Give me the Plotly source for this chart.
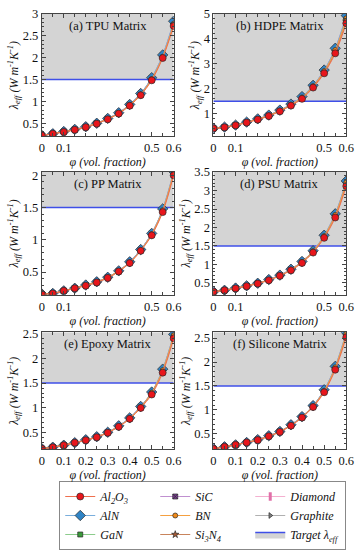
import plotly.graph_objects as go

# ---------------- data ----------------
PHI = [0.0, 0.05, 0.10, 0.15, 0.20, 0.25, 0.30, 0.35, 0.40, 0.45, 0.50, 0.55, 0.60]
TARGET = 1.5

FILLERS = ["Al2O3", "AlN", "GaN", "SiC", "BN", "Si3N4", "Diamond", "Graphite"]
MATRICES = ["TPU", "HDPE", "PP", "PSU", "Epoxy", "Silicone"]
PANEL_LABELS = ["(a) TPU Matrix", "(b) HDPE Matrix", "(c) PP Matrix",
                "(d) PSU Matrix", "(e) Epoxy Matrix", "(f) Silicone Matrix"]

# TPU matrix
TPU_AL2O3    = [0.22, 0.26, 0.30, 0.35, 0.41, 0.49, 0.59, 0.72, 0.90, 1.14, 1.48, 1.99, 2.72]
TPU_ALN      = [0.22, 0.26, 0.31, 0.36, 0.42, 0.50, 0.61, 0.74, 0.93, 1.18, 1.54, 2.06, 2.83]
TPU_GAN      = [0.22, 0.26, 0.31, 0.35, 0.42, 0.50, 0.60, 0.73, 0.92, 1.17, 1.52, 2.03, 2.79]
TPU_SIC      = [0.22, 0.26, 0.31, 0.36, 0.42, 0.50, 0.61, 0.74, 0.93, 1.18, 1.53, 2.05, 2.81]
TPU_BN       = [0.22, 0.26, 0.31, 0.35, 0.42, 0.50, 0.60, 0.73, 0.92, 1.16, 1.51, 2.02, 2.77]
TPU_SI3N4    = [0.22, 0.26, 0.30, 0.35, 0.41, 0.50, 0.60, 0.73, 0.91, 1.16, 1.51, 2.02, 2.76]
TPU_DIAMOND  = [0.22, 0.26, 0.31, 0.36, 0.42, 0.50, 0.61, 0.74, 0.93, 1.18, 1.53, 2.05, 2.82]
TPU_GRAPHITE = [0.22, 0.26, 0.31, 0.36, 0.42, 0.50, 0.61, 0.74, 0.93, 1.18, 1.53, 2.05, 2.81]

# HDPE matrix
HDPE_AL2O3    = [0.42, 0.46, 0.54, 0.65, 0.77, 0.91, 1.10, 1.33, 1.60, 2.05, 2.62, 3.42, 4.62]
HDPE_ALN      = [0.42, 0.47, 0.55, 0.67, 0.80, 0.95, 1.15, 1.39, 1.69, 2.14, 2.75, 3.62, 4.93]
HDPE_GAN      = [0.42, 0.47, 0.55, 0.66, 0.79, 0.93, 1.13, 1.36, 1.65, 2.10, 2.69, 3.52, 4.77]
HDPE_SIC      = [0.42, 0.47, 0.55, 0.67, 0.80, 0.95, 1.14, 1.38, 1.68, 2.13, 2.73, 3.59, 4.89]
HDPE_BN       = [0.42, 0.47, 0.55, 0.66, 0.79, 0.94, 1.13, 1.37, 1.66, 2.11, 2.71, 3.55, 4.82]
HDPE_SI3N4    = [0.42, 0.46, 0.55, 0.66, 0.78, 0.93, 1.12, 1.35, 1.63, 2.08, 2.66, 3.48, 4.70]
HDPE_DIAMOND  = [0.42, 0.47, 0.55, 0.67, 0.80, 0.95, 1.14, 1.38, 1.68, 2.14, 2.74, 3.61, 4.91]
HDPE_GRAPHITE = [0.42, 0.47, 0.55, 0.67, 0.80, 0.95, 1.14, 1.38, 1.68, 2.13, 2.74, 3.60, 4.90]

# PP matrix
PP_AL2O3    = [0.16, 0.17, 0.21, 0.25, 0.29, 0.34, 0.41, 0.51, 0.64, 0.83, 1.07, 1.43, 2.00]
PP_ALN      = [0.16, 0.17, 0.21, 0.25, 0.30, 0.35, 0.42, 0.52, 0.66, 0.85, 1.10, 1.48, 2.06]
PP_GAN      = [0.16, 0.17, 0.21, 0.25, 0.30, 0.35, 0.42, 0.52, 0.65, 0.84, 1.09, 1.46, 2.04]
PP_SIC      = [0.16, 0.17, 0.21, 0.25, 0.30, 0.35, 0.42, 0.52, 0.66, 0.85, 1.10, 1.47, 2.05]
PP_BN       = [0.16, 0.17, 0.21, 0.25, 0.30, 0.35, 0.42, 0.52, 0.65, 0.84, 1.09, 1.46, 2.04]
PP_SI3N4    = [0.16, 0.17, 0.21, 0.25, 0.29, 0.34, 0.41, 0.51, 0.65, 0.84, 1.08, 1.45, 2.03]
PP_DIAMOND  = [0.16, 0.17, 0.21, 0.25, 0.30, 0.35, 0.42, 0.52, 0.66, 0.85, 1.10, 1.47, 2.05]
PP_GRAPHITE = [0.16, 0.17, 0.21, 0.25, 0.30, 0.35, 0.42, 0.52, 0.66, 0.85, 1.10, 1.47, 2.05]

# PSU matrix
PSU_AL2O3    = [0.26, 0.30, 0.35, 0.41, 0.48, 0.57, 0.69, 0.84, 1.04, 1.32, 1.72, 2.27, 3.12]
PSU_ALN      = [0.26, 0.30, 0.36, 0.42, 0.49, 0.59, 0.71, 0.87, 1.08, 1.37, 1.79, 2.37, 3.26]
PSU_GAN      = [0.26, 0.30, 0.36, 0.42, 0.49, 0.58, 0.70, 0.86, 1.06, 1.35, 1.76, 2.33, 3.20]
PSU_SIC      = [0.26, 0.30, 0.36, 0.42, 0.49, 0.59, 0.71, 0.87, 1.08, 1.37, 1.78, 2.36, 3.24]
PSU_BN       = [0.26, 0.30, 0.36, 0.42, 0.49, 0.58, 0.70, 0.86, 1.07, 1.36, 1.77, 2.34, 3.22]
PSU_SI3N4    = [0.26, 0.30, 0.35, 0.41, 0.49, 0.58, 0.70, 0.85, 1.06, 1.34, 1.75, 2.31, 3.18]
PSU_DIAMOND  = [0.26, 0.30, 0.36, 0.42, 0.49, 0.59, 0.71, 0.87, 1.08, 1.37, 1.78, 2.36, 3.25]
PSU_GRAPHITE = [0.26, 0.30, 0.36, 0.42, 0.49, 0.59, 0.71, 0.87, 1.08, 1.37, 1.78, 2.36, 3.24]

# Epoxy matrix
EPOXY_AL2O3    = [0.18, 0.21, 0.25, 0.30, 0.35, 0.41, 0.50, 0.62, 0.78, 1.00, 1.27, 1.71, 2.40]
EPOXY_ALN      = [0.18, 0.21, 0.25, 0.30, 0.36, 0.42, 0.51, 0.64, 0.80, 1.03, 1.32, 1.78, 2.48]
EPOXY_GAN      = [0.18, 0.21, 0.25, 0.30, 0.35, 0.42, 0.51, 0.63, 0.79, 1.02, 1.30, 1.75, 2.45]
EPOXY_SIC      = [0.18, 0.21, 0.25, 0.30, 0.36, 0.42, 0.51, 0.64, 0.80, 1.03, 1.31, 1.77, 2.47]
EPOXY_BN       = [0.18, 0.21, 0.25, 0.30, 0.35, 0.42, 0.51, 0.63, 0.79, 1.02, 1.31, 1.76, 2.46]
EPOXY_SI3N4    = [0.18, 0.21, 0.25, 0.30, 0.35, 0.41, 0.50, 0.63, 0.79, 1.01, 1.30, 1.74, 2.44]
EPOXY_DIAMOND  = [0.18, 0.21, 0.25, 0.30, 0.36, 0.42, 0.51, 0.64, 0.80, 1.03, 1.31, 1.77, 2.47]
EPOXY_GRAPHITE = [0.18, 0.21, 0.25, 0.30, 0.36, 0.42, 0.51, 0.64, 0.80, 1.03, 1.31, 1.77, 2.47]

# Silicone matrix
SILICONE_AL2O3    = [0.19, 0.23, 0.27, 0.32, 0.37, 0.45, 0.54, 0.67, 0.84, 1.06, 1.37, 1.84, 2.52]
SILICONE_ALN      = [0.19, 0.23, 0.27, 0.32, 0.38, 0.46, 0.55, 0.69, 0.86, 1.09, 1.42, 1.91, 2.62]
SILICONE_GAN      = [0.19, 0.23, 0.27, 0.32, 0.38, 0.45, 0.55, 0.68, 0.85, 1.08, 1.40, 1.88, 2.58]
SILICONE_SIC      = [0.19, 0.23, 0.27, 0.32, 0.38, 0.46, 0.55, 0.69, 0.86, 1.09, 1.41, 1.90, 2.61]
SILICONE_BN       = [0.19, 0.23, 0.27, 0.32, 0.38, 0.45, 0.55, 0.68, 0.85, 1.08, 1.40, 1.89, 2.59]
SILICONE_SI3N4    = [0.19, 0.23, 0.27, 0.32, 0.37, 0.45, 0.54, 0.68, 0.85, 1.07, 1.39, 1.87, 2.56]
SILICONE_DIAMOND  = [0.19, 0.23, 0.27, 0.32, 0.38, 0.46, 0.55, 0.69, 0.86, 1.09, 1.41, 1.90, 2.61]
SILICONE_GRAPHITE = [0.19, 0.23, 0.27, 0.32, 0.38, 0.46, 0.55, 0.69, 0.86, 1.09, 1.41, 1.90, 2.61]

# axis settings per panel (y range, major step)
Y_RANGES = [[0.2, 3.0], [0.1, 5.0], [0.15, 2.05], [0.18, 3.5], [0.17, 2.52], [0.18, 2.62]]
Y_DTICKS = [0.5, 1.0, 0.5, 0.5, 0.5, 0.5]
X_TICKS_SPARSE = [0, 0.1, 0.5, 0.6]
X_TICKS_FULL = [0, 0.1, 0.2, 0.3, 0.4, 0.5, 0.6]

SERIES = {
    "TPU": [TPU_AL2O3, TPU_ALN, TPU_GAN, TPU_SIC, TPU_BN, TPU_SI3N4, TPU_DIAMOND, TPU_GRAPHITE],
    "HDPE": [HDPE_AL2O3, HDPE_ALN, HDPE_GAN, HDPE_SIC, HDPE_BN, HDPE_SI3N4, HDPE_DIAMOND, HDPE_GRAPHITE],
    "PP": [PP_AL2O3, PP_ALN, PP_GAN, PP_SIC, PP_BN, PP_SI3N4, PP_DIAMOND, PP_GRAPHITE],
    "PSU": [PSU_AL2O3, PSU_ALN, PSU_GAN, PSU_SIC, PSU_BN, PSU_SI3N4, PSU_DIAMOND, PSU_GRAPHITE],
    "Epoxy": [EPOXY_AL2O3, EPOXY_ALN, EPOXY_GAN, EPOXY_SIC, EPOXY_BN, EPOXY_SI3N4, EPOXY_DIAMOND, EPOXY_GRAPHITE],
    "Silicone": [SILICONE_AL2O3, SILICONE_ALN, SILICONE_GAN, SILICONE_SIC, SILICONE_BN,
                 SILICONE_SI3N4, SILICONE_DIAMOND, SILICONE_GRAPHITE],
}

# ---------------- styles ----------------
LEGEND_NAMES = {
    "Al2O3": "<i>Al<sub>2</sub>O<sub>3</sub></i>",
    "AlN": "<i>AlN</i>",
    "GaN": "<i>GaN</i>",
    "SiC": "<i>SiC</i>",
    "BN": "<i>BN</i>",
    "Si3N4": "<i>Si<sub>3</sub>N<sub>4</sub></i>",
    "Diamond": "<i>Diamond</i>",
    "Graphite": "<i>Graphite</i>",
}
STYLE = {
    "Al2O3":    dict(line="#ef6f4e", marker="#e8151b", symbol="circle", size=7),
    "AlN":      dict(line="#7aaedc", marker="#2f84c6", symbol="diamond", size=8),
    "GaN":      dict(line="#8ccc8c", marker="#3a9a3a", symbol="square", size=5),
    "SiC":      dict(line="#c090d0", marker="#7d3f96", symbol="square-x", size=5),
    "BN":       dict(line="#f5a040", marker="#f08a1a", symbol="circle", size=5),
    "Si3N4":    dict(line="#c8845c", marker="#a55a35", symbol="star", size=5.5),
    "Diamond":  dict(line="#f4b0d0", marker="#e070a8", symbol="line-ns", size=6),
    "Graphite": dict(line="#b0b0b0", marker="#808080", symbol="triangle-right", size=5),
}
# row-major legend ranking that reproduces a 3-column legend
LEGEND_RANK = {"Al2O3": 1, "SiC": 2, "Diamond": 3, "AlN": 4, "BN": 5,
               "Graphite": 6, "GaN": 7, "Si3N4": 8}
DRAW_ORDER = ["Graphite", "Diamond", "GaN", "SiC", "Si3N4", "AlN", "BN", "Al2O3"]

W, H = 364, 550
COL_X = [(40, 176), (217, 354)]
ROW_Y = [(7, 134), (171, 298), (337, 458)]

FONT = "Liberation Serif"
AXIS_COLOR = "#444444"
FILL_GRAY = "#d4d4d4"
TARGET_BLUE = "#3f4fe8"

fig = go.Figure()
layout_axes = {}
shapes = []
annotations = []

for i, mat in enumerate(MATRICES):
    r, c = divmod(i, 2)
    xa = "x" if i == 0 else f"x{i+1}"
    ya = "y" if i == 0 else f"y{i+1}"
    xkey = "xaxis" if i == 0 else f"xaxis{i+1}"
    ykey = "yaxis" if i == 0 else f"yaxis{i+1}"
    x0p, x1p = COL_X[c]
    y0p, y1p = ROW_Y[r]
    yr = Y_RANGES[i]

    # shaded target region + target line
    shapes.append(dict(type="rect", xref=xa, yref=ya, x0=PHI[0], x1=PHI[-1],
                       y0=TARGET, y1=yr[1], fillcolor=FILL_GRAY, line=dict(width=0),
                       layer="below"))
    shapes.append(dict(type="line", xref=xa, yref=ya, x0=PHI[0], x1=PHI[-1],
                       y0=TARGET, y1=TARGET, line=dict(color=TARGET_BLUE, width=1.5),
                       layer="below"))

    vals = dict(zip(FILLERS, SERIES[mat]))
    for f in DRAW_ORDER:
        st = STYLE[f]
        marker = dict(color=st["marker"], symbol=st["symbol"], size=st["size"],
                      line=dict(color="#2a2a2a", width=0.7))
        if f == "Diamond":
            marker = dict(color=st["marker"], symbol="line-ns", size=st["size"],
                          line=dict(color=st["marker"], width=3))
        fig.add_trace(go.Scatter(
            x=PHI, y=vals[f], mode="lines+markers", name=LEGEND_NAMES[f],
            line=dict(color=st["line"], width=1, shape="spline"),
            marker=marker, xaxis=xa, yaxis=ya,
            showlegend=(i == 0), legendrank=LEGEND_RANK[f],
        ))

    xt = X_TICKS_FULL if r == 2 else X_TICKS_SPARSE
    layout_axes[xkey] = dict(
        domain=[x0p / W, x1p / W], anchor=ya, range=[PHI[0], PHI[-1]],
        tickmode="array", tickvals=xt, ticktext=[f"{v:g}" for v in xt],
        ticks="inside", ticklen=4,
        tickcolor=AXIS_COLOR, showline=True, linecolor=AXIS_COLOR, linewidth=1,
        mirror="ticks", showgrid=False, zeroline=False,
        minor=dict(ticks="inside", ticklen=3, dtick=0.05, tick0=0, tickcolor=AXIS_COLOR),
        title=dict(text="<i>φ (vol. fraction)</i>", font=dict(size=12), standoff=3),
        tickfont=dict(size=12.5), layer="above traces",
    )
    layout_axes[ykey] = dict(
        domain=[1 - y1p / H, 1 - y0p / H], anchor=xa, range=yr,
        dtick=Y_DTICKS[i], tick0=0, ticks="inside", ticklen=4, tickcolor=AXIS_COLOR,
        showline=True, linecolor=AXIS_COLOR, linewidth=1, mirror="ticks",
        showgrid=False, zeroline=False,
        minor=dict(ticks="inside", ticklen=2, dtick=Y_DTICKS[i] / 5, tick0=0,
                   tickcolor=AXIS_COLOR),
        title=dict(text="<i>λ<sub>eff</sub> (W m<sup>-1</sup>K<sup>-1</sup>)</i>",
                   font=dict(size=12), standoff=1),
        tickfont=dict(size=12.5), layer="above traces",
    )
    annotations.append(dict(text=PANEL_LABELS[i], xref=f"{xa} domain", yref=f"{ya} domain",
                            x=0.5, y=0.9, showarrow=False, font=dict(size=12.5),
                            xanchor="center", yanchor="middle"))

# legend entry for the target band
fig.add_trace(go.Scatter(
    x=[None], y=[None], mode="lines", name="<i>Target λ<sub>eff</sub></i>",
    line=dict(color=TARGET_BLUE, width=1.5), fill="tonexty", fillcolor=FILL_GRAY,
    legendrank=9, xaxis="x", yaxis="y",
))

fig.update_layout(
    width=W, height=H, margin=dict(l=0, r=0, t=0, b=0),
    paper_bgcolor="white", plot_bgcolor="white",
    font=dict(family=FONT, size=12, color="#111111"),
    shapes=shapes, annotations=annotations,
    showlegend=True,
    legend=dict(orientation="h", x=58 / W, y=1 - 491 / H, xanchor="left", yanchor="top",
                entrywidth=50, entrywidthmode="pixels", bordercolor="#888888",
                borderwidth=1, font=dict(size=12, family=FONT), traceorder="normal",
                itemwidth=30, tracegroupgap=0, bgcolor="rgba(255,255,255,0)"),
    **layout_axes,
)

fig.write_html("out.html", config={"displayModeBar": False},
               post_script="document.body.style.margin='0px';")
